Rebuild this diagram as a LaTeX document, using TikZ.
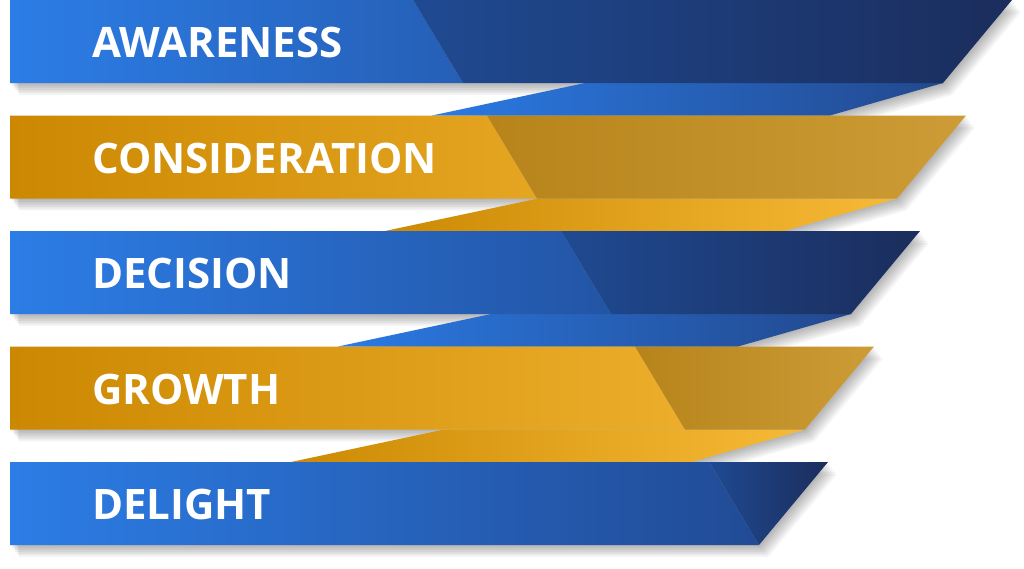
\documentclass[tikz,border=0pt]{standalone}
\usepackage{fontspec}
\setmainfont{Open Sans}
\definecolor{blueL}{HTML}{2C7DE6}
\definecolor{blueR}{HTML}{1F4186}
\definecolor{bluedkL}{HTML}{1F4A92}
\definecolor{bluedkR}{HTML}{1B2D5C}
\definecolor{bluefL}{HTML}{2B7AE3}
\definecolor{bluefR}{HTML}{22498F}
\definecolor{goldL}{HTML}{CC8802}
\definecolor{goldR}{HTML}{F6BA38}
\definecolor{golddkL}{HTML}{B7841B}
\definecolor{golddkR}{HTML}{CD9C36}
\definecolor{goldfL}{HTML}{CC8A04}
\definecolor{goldfR}{HTML}{F7BA36}
\tikzset{
  bandtext/.style={text=white, font=\fontsize{42}{50}\selectfont\bfseries, anchor=base west, inner sep=0pt},
  shadowlayer/.style={fill=black, opacity=0.045}
}
\begin{document}
\begin{tikzpicture}[x=1pt,y=-1pt]
\useasboundingbox (0,0) rectangle (1024,568);
\fill[white] (0,0) rectangle (1024,568);

% shadows of bands and folds
\foreach \k in {0,...,4} {
  \pgfmathsetmacro\T{115.5*\k}
  \pgfmathsetmacro\B{\T+83}
  \pgfmathsetmacro\RT{1012-46*\k}
  \pgfmathsetmacro\RB{943-46*\k}
  \foreach \i in {1,...,7} {
    \fill[shadowlayer, shift={(1.3*\i,1.7*\i)}] (10,\T) -- (\RT,\T) -- (\RB,\B) -- (10,\B) -- cycle;
  }
}
\foreach \k in {0,...,3} {
  \pgfmathsetmacro\B{115.5*\k+83}
  \pgfmathsetmacro\Tn{115.5*(\k+1)}
  \pgfmathsetmacro\RB{943-46*\k}
  \pgfmathsetmacro\FBR{830-46*\k}
  \pgfmathsetmacro\FTL{585-47*\k}
  \pgfmathsetmacro\FBL{432-47*\k}
  \foreach \i in {1,...,7} {
    \fill[shadowlayer, shift={(1.3*\i,1.7*\i)}] (\FTL,\B) -- (\RB,\B) -- (\FBR,\Tn) -- (\FBL,\Tn) -- cycle;
  }
}

% folds
\foreach \k/\cl/\cr in {0/bluefL/bluefR, 1/goldfL/goldfR, 2/bluefL/bluefR, 3/goldfL/goldfR} {
  \pgfmathsetmacro\B{115.5*\k+83}
  \pgfmathsetmacro\Tn{115.5*(\k+1)}
  \pgfmathsetmacro\RB{943-46*\k}
  \pgfmathsetmacro\FBR{830-46*\k}
  \pgfmathsetmacro\FTL{585-47*\k}
  \pgfmathsetmacro\FBL{432-47*\k}
  \shade[left color=\cl, right color=\cr] (\FTL,\B) -- (\RB,\B) -- (\FBR,\Tn) -- (\FBL,\Tn) -- cycle;
}

% bands
\foreach \k/\cl/\cr/\dl/\dr in {0/blueL/blueR/bluedkL/bluedkR, 1/goldL/goldR/golddkL/golddkR, 2/blueL/blueR/bluedkL/bluedkR, 3/goldL/goldR/golddkL/golddkR, 4/blueL/blueR/bluedkL/bluedkR} {
  \pgfmathsetmacro\T{115.5*\k}
  \pgfmathsetmacro\B{\T+83}
  \pgfmathsetmacro\RT{1012-46*\k}
  \pgfmathsetmacro\RB{943-46*\k}
  \pgfmathsetmacro\DB{463+74*\k}
  \pgfmathsetmacro\DT{\DB-50}
  \pgfmathtruncatemacro\p{(\DB-10)/890*100}
  \shade[left color=\cl, right color=\cr!\p!\cl] (10,\T) -- (\DT,\T) -- (\DB,\B) -- (10,\B) -- cycle;
  \shade[left color=\dl, right color=\dr] (\DT,\T) -- (\RT,\T) -- (\RB,\B) -- (\DB,\B) -- cycle;
}

% labels
\node[bandtext] (awareness) at (92,57.5) {AWARENESS};
\node[bandtext] (consideration) at (92,173) {CONSIDERATION};
\node[bandtext] (decision) at (92,288.5) {DECISION};
\node[bandtext] (growth) at (92,404) {GROWTH};
\node[bandtext] (delight) at (92,519.5) {DELIGHT};
\end{tikzpicture}
\end{document}
